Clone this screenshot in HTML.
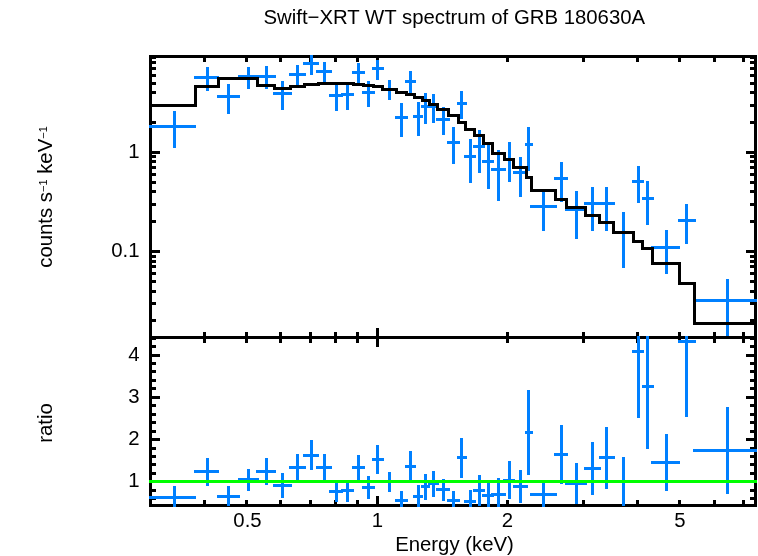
<!DOCTYPE html>
<html><head><meta charset="utf-8"><title>Swift-XRT WT spectrum of GRB 180630A</title>
<style>
html,body{margin:0;padding:0;background:#fff;}
body{width:758px;height:556px;overflow:hidden;}
svg{display:block;}
text{font-family:"Liberation Sans",Arial,Helvetica,sans-serif;font-size:20.35px;fill:#000;}
</style></head><body>
<svg width="758" height="556" viewBox="0 0 758 556">
<rect x="0" y="0" width="758" height="556" fill="#fff"/>
<g shape-rendering="crispEdges">
<rect x="149" y="55" width="608" height="3" fill="#000"/>
<rect x="149" y="55" width="3" height="284" fill="#000"/>
<rect x="754" y="55" width="3" height="284" fill="#000"/>
<rect x="149" y="336" width="608" height="3" fill="#000"/>
<rect x="203" y="58" width="3" height="4" fill="#000"/>
<rect x="203" y="332" width="3" height="4" fill="#000"/>
<rect x="245" y="58" width="3" height="4" fill="#000"/>
<rect x="245" y="332" width="3" height="4" fill="#000"/>
<rect x="279" y="58" width="3" height="4" fill="#000"/>
<rect x="279" y="332" width="3" height="4" fill="#000"/>
<rect x="309" y="58" width="3" height="4" fill="#000"/>
<rect x="309" y="332" width="3" height="4" fill="#000"/>
<rect x="334" y="58" width="3" height="4" fill="#000"/>
<rect x="334" y="332" width="3" height="4" fill="#000"/>
<rect x="356" y="58" width="3" height="4" fill="#000"/>
<rect x="356" y="332" width="3" height="4" fill="#000"/>
<rect x="506" y="58" width="3" height="4" fill="#000"/>
<rect x="506" y="332" width="3" height="4" fill="#000"/>
<rect x="582" y="58" width="3" height="4" fill="#000"/>
<rect x="582" y="332" width="3" height="4" fill="#000"/>
<rect x="636" y="58" width="3" height="4" fill="#000"/>
<rect x="636" y="332" width="3" height="4" fill="#000"/>
<rect x="678" y="58" width="3" height="4" fill="#000"/>
<rect x="678" y="332" width="3" height="4" fill="#000"/>
<rect x="713" y="58" width="3" height="4" fill="#000"/>
<rect x="713" y="332" width="3" height="4" fill="#000"/>
<rect x="742" y="58" width="3" height="4" fill="#000"/>
<rect x="742" y="332" width="3" height="4" fill="#000"/>
<rect x="376" y="58" width="3" height="8" fill="#000"/>
<rect x="376" y="328" width="3" height="8" fill="#000"/>
<rect x="152" y="319" width="4" height="3" fill="#000"/>
<rect x="750" y="319" width="4" height="3" fill="#000"/>
<rect x="152" y="302" width="4" height="3" fill="#000"/>
<rect x="750" y="302" width="4" height="3" fill="#000"/>
<rect x="152" y="290" width="4" height="3" fill="#000"/>
<rect x="750" y="290" width="4" height="3" fill="#000"/>
<rect x="152" y="280" width="4" height="3" fill="#000"/>
<rect x="750" y="280" width="4" height="3" fill="#000"/>
<rect x="152" y="272" width="4" height="3" fill="#000"/>
<rect x="750" y="272" width="4" height="3" fill="#000"/>
<rect x="152" y="265" width="4" height="3" fill="#000"/>
<rect x="750" y="265" width="4" height="3" fill="#000"/>
<rect x="152" y="260" width="4" height="3" fill="#000"/>
<rect x="750" y="260" width="4" height="3" fill="#000"/>
<rect x="152" y="255" width="4" height="3" fill="#000"/>
<rect x="750" y="255" width="4" height="3" fill="#000"/>
<rect x="152" y="250" width="8" height="3" fill="#000"/>
<rect x="746" y="250" width="8" height="3" fill="#000"/>
<rect x="152" y="220" width="4" height="3" fill="#000"/>
<rect x="750" y="220" width="4" height="3" fill="#000"/>
<rect x="152" y="203" width="4" height="3" fill="#000"/>
<rect x="750" y="203" width="4" height="3" fill="#000"/>
<rect x="152" y="190" width="4" height="3" fill="#000"/>
<rect x="750" y="190" width="4" height="3" fill="#000"/>
<rect x="152" y="181" width="4" height="3" fill="#000"/>
<rect x="750" y="181" width="4" height="3" fill="#000"/>
<rect x="152" y="173" width="4" height="3" fill="#000"/>
<rect x="750" y="173" width="4" height="3" fill="#000"/>
<rect x="152" y="166" width="4" height="3" fill="#000"/>
<rect x="750" y="166" width="4" height="3" fill="#000"/>
<rect x="152" y="160" width="4" height="3" fill="#000"/>
<rect x="750" y="160" width="4" height="3" fill="#000"/>
<rect x="152" y="155" width="4" height="3" fill="#000"/>
<rect x="750" y="155" width="4" height="3" fill="#000"/>
<rect x="152" y="151" width="8" height="3" fill="#000"/>
<rect x="746" y="151" width="8" height="3" fill="#000"/>
<rect x="152" y="121" width="4" height="3" fill="#000"/>
<rect x="750" y="121" width="4" height="3" fill="#000"/>
<rect x="152" y="104" width="4" height="3" fill="#000"/>
<rect x="750" y="104" width="4" height="3" fill="#000"/>
<rect x="152" y="91" width="4" height="3" fill="#000"/>
<rect x="750" y="91" width="4" height="3" fill="#000"/>
<rect x="152" y="82" width="4" height="3" fill="#000"/>
<rect x="750" y="82" width="4" height="3" fill="#000"/>
<rect x="152" y="74" width="4" height="3" fill="#000"/>
<rect x="750" y="74" width="4" height="3" fill="#000"/>
<rect x="152" y="67" width="4" height="3" fill="#000"/>
<rect x="750" y="67" width="4" height="3" fill="#000"/>
<rect x="152" y="61" width="4" height="3" fill="#000"/>
<rect x="750" y="61" width="4" height="3" fill="#000"/>
<rect x="152" y="56" width="4" height="3" fill="#000"/>
<rect x="750" y="56" width="4" height="3" fill="#000"/>
<rect x="149" y="125" width="47" height="3" fill="#0080ff"/>
<rect x="173" y="111" width="3" height="37" fill="#0080ff"/>
<rect x="194" y="76" width="25" height="3" fill="#0080ff"/>
<rect x="206" y="67" width="3" height="24" fill="#0080ff"/>
<rect x="217" y="95" width="23" height="3" fill="#0080ff"/>
<rect x="227" y="84" width="3" height="30" fill="#0080ff"/>
<rect x="238" y="75" width="21" height="3" fill="#0080ff"/>
<rect x="247" y="67" width="3" height="22" fill="#0080ff"/>
<rect x="256" y="75" width="20" height="3" fill="#0080ff"/>
<rect x="265" y="66" width="3" height="23" fill="#0080ff"/>
<rect x="273" y="92" width="19" height="3" fill="#0080ff"/>
<rect x="281" y="81" width="3" height="29" fill="#0080ff"/>
<rect x="289" y="73" width="17" height="3" fill="#0080ff"/>
<rect x="296" y="65" width="3" height="21" fill="#0080ff"/>
<rect x="303" y="62" width="16" height="3" fill="#0080ff"/>
<rect x="310" y="55" width="3" height="20" fill="#0080ff"/>
<rect x="316" y="70" width="16" height="3" fill="#0080ff"/>
<rect x="323" y="62" width="3" height="20" fill="#0080ff"/>
<rect x="329" y="94" width="14" height="3" fill="#0080ff"/>
<rect x="335" y="84" width="3" height="27" fill="#0080ff"/>
<rect x="341" y="93" width="13" height="3" fill="#0080ff"/>
<rect x="346" y="84" width="3" height="26" fill="#0080ff"/>
<rect x="352" y="71" width="13" height="3" fill="#0080ff"/>
<rect x="357" y="63" width="3" height="20" fill="#0080ff"/>
<rect x="362" y="91" width="13" height="3" fill="#0080ff"/>
<rect x="367" y="81" width="3" height="26" fill="#0080ff"/>
<rect x="372" y="67" width="12" height="3" fill="#0080ff"/>
<rect x="376" y="60" width="3" height="20" fill="#0080ff"/>
<rect x="381" y="88" width="16" height="3" fill="#0080ff"/>
<rect x="388" y="80" width="3" height="20" fill="#0080ff"/>
<rect x="395" y="116" width="13" height="3" fill="#0080ff"/>
<rect x="400" y="103" width="3" height="34" fill="#0080ff"/>
<rect x="405" y="80" width="11" height="3" fill="#0080ff"/>
<rect x="409" y="71" width="3" height="22" fill="#0080ff"/>
<rect x="413" y="115" width="10" height="3" fill="#0080ff"/>
<rect x="417" y="102" width="3" height="34" fill="#0080ff"/>
<rect x="421" y="105" width="9" height="3" fill="#0080ff"/>
<rect x="424" y="93" width="3" height="31" fill="#0080ff"/>
<rect x="428" y="105" width="11" height="3" fill="#0080ff"/>
<rect x="432" y="94" width="3" height="29" fill="#0080ff"/>
<rect x="436" y="118" width="14" height="3" fill="#0080ff"/>
<rect x="442" y="107" width="3" height="28" fill="#0080ff"/>
<rect x="447" y="141" width="13" height="3" fill="#0080ff"/>
<rect x="452" y="127" width="3" height="37" fill="#0080ff"/>
<rect x="457" y="102" width="10" height="3" fill="#0080ff"/>
<rect x="460" y="91" width="3" height="28" fill="#0080ff"/>
<rect x="464" y="155" width="12" height="3" fill="#0080ff"/>
<rect x="469" y="139" width="3" height="44" fill="#0080ff"/>
<rect x="473" y="145" width="12" height="3" fill="#0080ff"/>
<rect x="478" y="130" width="3" height="43" fill="#0080ff"/>
<rect x="482" y="160" width="12" height="3" fill="#0080ff"/>
<rect x="487" y="145" width="3" height="44" fill="#0080ff"/>
<rect x="491" y="168" width="15" height="3" fill="#0080ff"/>
<rect x="497" y="150" width="3" height="51" fill="#0080ff"/>
<rect x="503" y="158" width="12" height="3" fill="#0080ff"/>
<rect x="508" y="142" width="3" height="40" fill="#0080ff"/>
<rect x="513" y="171" width="15" height="3" fill="#0080ff"/>
<rect x="519" y="157" width="3" height="40" fill="#0080ff"/>
<rect x="525" y="143" width="8" height="3" fill="#0080ff"/>
<rect x="527" y="127" width="3" height="44" fill="#0080ff"/>
<rect x="530" y="205" width="27" height="3" fill="#0080ff"/>
<rect x="542" y="190" width="3" height="41" fill="#0080ff"/>
<rect x="554" y="177" width="14" height="3" fill="#0080ff"/>
<rect x="560" y="162" width="3" height="40" fill="#0080ff"/>
<rect x="565" y="208" width="22" height="3" fill="#0080ff"/>
<rect x="575" y="191" width="3" height="48" fill="#0080ff"/>
<rect x="584" y="202" width="17" height="3" fill="#0080ff"/>
<rect x="591" y="187" width="3" height="44" fill="#0080ff"/>
<rect x="599" y="202" width="16" height="3" fill="#0080ff"/>
<rect x="605" y="187" width="3" height="44" fill="#0080ff"/>
<rect x="612" y="231" width="23" height="3" fill="#0080ff"/>
<rect x="622" y="212" width="3" height="56" fill="#0080ff"/>
<rect x="632" y="180" width="12" height="3" fill="#0080ff"/>
<rect x="637" y="166" width="3" height="37" fill="#0080ff"/>
<rect x="642" y="197" width="12" height="3" fill="#0080ff"/>
<rect x="646" y="181" width="3" height="44" fill="#0080ff"/>
<rect x="651" y="246" width="29" height="3" fill="#0080ff"/>
<rect x="665" y="230" width="3" height="44" fill="#0080ff"/>
<rect x="678" y="219" width="18" height="3" fill="#0080ff"/>
<rect x="685" y="204" width="3" height="40" fill="#0080ff"/>
<rect x="693" y="299" width="64" height="3" fill="#0080ff"/>
<rect x="726" y="279" width="3" height="57" fill="#0080ff"/>
<rect x="149" y="104" width="48" height="3" fill="#000"/>
<rect x="194" y="85" width="3" height="22" fill="#000"/>
<rect x="194" y="85" width="26" height="3" fill="#000"/>
<rect x="217" y="77" width="3" height="11" fill="#000"/>
<rect x="217" y="77" width="24" height="3" fill="#000"/>
<rect x="238" y="77" width="3" height="3" fill="#000"/>
<rect x="238" y="77" width="21" height="3" fill="#000"/>
<rect x="256" y="77" width="3" height="10" fill="#000"/>
<rect x="256" y="84" width="20" height="3" fill="#000"/>
<rect x="273" y="84" width="3" height="6" fill="#000"/>
<rect x="273" y="87" width="19" height="3" fill="#000"/>
<rect x="289" y="85" width="3" height="5" fill="#000"/>
<rect x="289" y="85" width="17" height="3" fill="#000"/>
<rect x="303" y="83" width="3" height="5" fill="#000"/>
<rect x="303" y="83" width="17" height="3" fill="#000"/>
<rect x="317" y="82" width="3" height="4" fill="#000"/>
<rect x="317" y="82" width="15" height="3" fill="#000"/>
<rect x="329" y="82" width="3" height="3" fill="#000"/>
<rect x="329" y="82" width="15" height="3" fill="#000"/>
<rect x="341" y="82" width="3" height="3" fill="#000"/>
<rect x="341" y="82" width="14" height="3" fill="#000"/>
<rect x="352" y="82" width="3" height="4" fill="#000"/>
<rect x="352" y="83" width="13" height="3" fill="#000"/>
<rect x="362" y="83" width="3" height="4" fill="#000"/>
<rect x="362" y="84" width="13" height="3" fill="#000"/>
<rect x="372" y="84" width="3" height="4" fill="#000"/>
<rect x="372" y="85" width="12" height="3" fill="#000"/>
<rect x="381" y="85" width="3" height="6" fill="#000"/>
<rect x="381" y="88" width="17" height="3" fill="#000"/>
<rect x="395" y="88" width="3" height="6" fill="#000"/>
<rect x="395" y="91" width="13" height="3" fill="#000"/>
<rect x="405" y="91" width="3" height="5" fill="#000"/>
<rect x="405" y="93" width="11" height="3" fill="#000"/>
<rect x="413" y="93" width="3" height="6" fill="#000"/>
<rect x="413" y="96" width="11" height="3" fill="#000"/>
<rect x="421" y="96" width="3" height="6" fill="#000"/>
<rect x="421" y="99" width="10" height="3" fill="#000"/>
<rect x="428" y="99" width="3" height="7" fill="#000"/>
<rect x="428" y="103" width="11" height="3" fill="#000"/>
<rect x="436" y="103" width="3" height="8" fill="#000"/>
<rect x="436" y="108" width="14" height="3" fill="#000"/>
<rect x="447" y="108" width="3" height="9" fill="#000"/>
<rect x="447" y="114" width="13" height="3" fill="#000"/>
<rect x="457" y="114" width="3" height="10" fill="#000"/>
<rect x="457" y="121" width="10" height="3" fill="#000"/>
<rect x="464" y="121" width="3" height="10" fill="#000"/>
<rect x="464" y="128" width="12" height="3" fill="#000"/>
<rect x="473" y="128" width="3" height="9" fill="#000"/>
<rect x="473" y="134" width="12" height="3" fill="#000"/>
<rect x="482" y="134" width="3" height="11" fill="#000"/>
<rect x="482" y="142" width="12" height="3" fill="#000"/>
<rect x="491" y="142" width="3" height="13" fill="#000"/>
<rect x="491" y="152" width="15" height="3" fill="#000"/>
<rect x="503" y="152" width="3" height="9" fill="#000"/>
<rect x="503" y="158" width="12" height="3" fill="#000"/>
<rect x="512" y="158" width="3" height="11" fill="#000"/>
<rect x="512" y="166" width="16" height="3" fill="#000"/>
<rect x="525" y="166" width="3" height="13" fill="#000"/>
<rect x="525" y="176" width="8" height="3" fill="#000"/>
<rect x="530" y="176" width="3" height="16" fill="#000"/>
<rect x="530" y="189" width="27" height="3" fill="#000"/>
<rect x="554" y="189" width="3" height="12" fill="#000"/>
<rect x="554" y="198" width="14" height="3" fill="#000"/>
<rect x="565" y="198" width="3" height="11" fill="#000"/>
<rect x="565" y="206" width="22" height="3" fill="#000"/>
<rect x="584" y="206" width="3" height="11" fill="#000"/>
<rect x="584" y="214" width="17" height="3" fill="#000"/>
<rect x="598" y="214" width="3" height="10" fill="#000"/>
<rect x="598" y="221" width="17" height="3" fill="#000"/>
<rect x="612" y="221" width="3" height="13" fill="#000"/>
<rect x="612" y="231" width="23" height="3" fill="#000"/>
<rect x="632" y="231" width="3" height="12" fill="#000"/>
<rect x="632" y="240" width="12" height="3" fill="#000"/>
<rect x="641" y="240" width="3" height="10" fill="#000"/>
<rect x="641" y="247" width="13" height="3" fill="#000"/>
<rect x="651" y="247" width="3" height="18" fill="#000"/>
<rect x="651" y="262" width="30" height="3" fill="#000"/>
<rect x="678" y="262" width="3" height="23" fill="#000"/>
<rect x="678" y="282" width="18" height="3" fill="#000"/>
<rect x="693" y="282" width="3" height="43" fill="#000"/>
<rect x="693" y="322" width="62" height="3" fill="#000"/>
<rect x="149" y="336" width="608" height="3" fill="#000"/>
<rect x="149" y="336" width="3" height="171" fill="#000"/>
<rect x="754" y="336" width="3" height="171" fill="#000"/>
<rect x="149" y="504" width="608" height="3" fill="#000"/>
<rect x="203" y="339" width="3" height="4" fill="#000"/>
<rect x="203" y="500" width="3" height="4" fill="#000"/>
<rect x="245" y="339" width="3" height="4" fill="#000"/>
<rect x="245" y="500" width="3" height="4" fill="#000"/>
<rect x="279" y="339" width="3" height="4" fill="#000"/>
<rect x="279" y="500" width="3" height="4" fill="#000"/>
<rect x="309" y="339" width="3" height="4" fill="#000"/>
<rect x="309" y="500" width="3" height="4" fill="#000"/>
<rect x="334" y="339" width="3" height="4" fill="#000"/>
<rect x="334" y="500" width="3" height="4" fill="#000"/>
<rect x="356" y="339" width="3" height="4" fill="#000"/>
<rect x="356" y="500" width="3" height="4" fill="#000"/>
<rect x="506" y="339" width="3" height="4" fill="#000"/>
<rect x="506" y="500" width="3" height="4" fill="#000"/>
<rect x="582" y="339" width="3" height="4" fill="#000"/>
<rect x="582" y="500" width="3" height="4" fill="#000"/>
<rect x="636" y="339" width="3" height="4" fill="#000"/>
<rect x="636" y="500" width="3" height="4" fill="#000"/>
<rect x="678" y="339" width="3" height="4" fill="#000"/>
<rect x="678" y="500" width="3" height="4" fill="#000"/>
<rect x="713" y="339" width="3" height="4" fill="#000"/>
<rect x="713" y="500" width="3" height="4" fill="#000"/>
<rect x="742" y="339" width="3" height="4" fill="#000"/>
<rect x="742" y="500" width="3" height="4" fill="#000"/>
<rect x="376" y="339" width="3" height="8" fill="#000"/>
<rect x="376" y="496" width="3" height="8" fill="#000"/>
<rect x="152" y="497" width="4" height="3" fill="#000"/>
<rect x="750" y="497" width="4" height="3" fill="#000"/>
<rect x="152" y="489" width="4" height="3" fill="#000"/>
<rect x="750" y="489" width="4" height="3" fill="#000"/>
<rect x="152" y="480" width="8" height="3" fill="#000"/>
<rect x="746" y="480" width="8" height="3" fill="#000"/>
<rect x="152" y="472" width="4" height="3" fill="#000"/>
<rect x="750" y="472" width="4" height="3" fill="#000"/>
<rect x="152" y="463" width="4" height="3" fill="#000"/>
<rect x="750" y="463" width="4" height="3" fill="#000"/>
<rect x="152" y="455" width="4" height="3" fill="#000"/>
<rect x="750" y="455" width="4" height="3" fill="#000"/>
<rect x="152" y="447" width="4" height="3" fill="#000"/>
<rect x="750" y="447" width="4" height="3" fill="#000"/>
<rect x="152" y="438" width="8" height="3" fill="#000"/>
<rect x="746" y="438" width="8" height="3" fill="#000"/>
<rect x="152" y="430" width="4" height="3" fill="#000"/>
<rect x="750" y="430" width="4" height="3" fill="#000"/>
<rect x="152" y="421" width="4" height="3" fill="#000"/>
<rect x="750" y="421" width="4" height="3" fill="#000"/>
<rect x="152" y="413" width="4" height="3" fill="#000"/>
<rect x="750" y="413" width="4" height="3" fill="#000"/>
<rect x="152" y="404" width="4" height="3" fill="#000"/>
<rect x="750" y="404" width="4" height="3" fill="#000"/>
<rect x="152" y="396" width="8" height="3" fill="#000"/>
<rect x="746" y="396" width="8" height="3" fill="#000"/>
<rect x="152" y="387" width="4" height="3" fill="#000"/>
<rect x="750" y="387" width="4" height="3" fill="#000"/>
<rect x="152" y="379" width="4" height="3" fill="#000"/>
<rect x="750" y="379" width="4" height="3" fill="#000"/>
<rect x="152" y="370" width="4" height="3" fill="#000"/>
<rect x="750" y="370" width="4" height="3" fill="#000"/>
<rect x="152" y="362" width="4" height="3" fill="#000"/>
<rect x="750" y="362" width="4" height="3" fill="#000"/>
<rect x="152" y="354" width="8" height="3" fill="#000"/>
<rect x="746" y="354" width="8" height="3" fill="#000"/>
<rect x="152" y="345" width="4" height="3" fill="#000"/>
<rect x="750" y="345" width="4" height="3" fill="#000"/>
<rect x="152" y="337" width="4" height="3" fill="#000"/>
<rect x="750" y="337" width="4" height="3" fill="#000"/>
<rect x="149" y="496" width="47" height="3" fill="#0080ff"/>
<rect x="173" y="486" width="3" height="21" fill="#0080ff"/>
<rect x="194" y="470" width="25" height="3" fill="#0080ff"/>
<rect x="206" y="458" width="3" height="28" fill="#0080ff"/>
<rect x="217" y="495" width="23" height="3" fill="#0080ff"/>
<rect x="227" y="486" width="3" height="20" fill="#0080ff"/>
<rect x="238" y="478" width="21" height="3" fill="#0080ff"/>
<rect x="247" y="469" width="3" height="22" fill="#0080ff"/>
<rect x="256" y="470" width="20" height="3" fill="#0080ff"/>
<rect x="265" y="458" width="3" height="27" fill="#0080ff"/>
<rect x="273" y="484" width="19" height="3" fill="#0080ff"/>
<rect x="281" y="473" width="3" height="25" fill="#0080ff"/>
<rect x="289" y="466" width="17" height="3" fill="#0080ff"/>
<rect x="296" y="454" width="3" height="28" fill="#0080ff"/>
<rect x="303" y="454" width="16" height="3" fill="#0080ff"/>
<rect x="310" y="440" width="3" height="30" fill="#0080ff"/>
<rect x="316" y="466" width="16" height="3" fill="#0080ff"/>
<rect x="323" y="454" width="3" height="28" fill="#0080ff"/>
<rect x="329" y="490" width="14" height="3" fill="#0080ff"/>
<rect x="335" y="481" width="3" height="21" fill="#0080ff"/>
<rect x="341" y="489" width="13" height="3" fill="#0080ff"/>
<rect x="346" y="481" width="3" height="21" fill="#0080ff"/>
<rect x="352" y="466" width="13" height="3" fill="#0080ff"/>
<rect x="357" y="455" width="3" height="27" fill="#0080ff"/>
<rect x="362" y="486" width="13" height="3" fill="#0080ff"/>
<rect x="367" y="476" width="3" height="23" fill="#0080ff"/>
<rect x="372" y="458" width="12" height="3" fill="#0080ff"/>
<rect x="376" y="445" width="3" height="29" fill="#0080ff"/>
<rect x="381" y="480" width="16" height="3" fill="#0080ff"/>
<rect x="388" y="472" width="3" height="20" fill="#0080ff"/>
<rect x="395" y="499" width="13" height="3" fill="#0080ff"/>
<rect x="400" y="491" width="3" height="16" fill="#0080ff"/>
<rect x="405" y="465" width="11" height="3" fill="#0080ff"/>
<rect x="409" y="451" width="3" height="31" fill="#0080ff"/>
<rect x="413" y="495" width="10" height="3" fill="#0080ff"/>
<rect x="417" y="485" width="3" height="22" fill="#0080ff"/>
<rect x="421" y="485" width="9" height="3" fill="#0080ff"/>
<rect x="424" y="474" width="3" height="26" fill="#0080ff"/>
<rect x="428" y="482" width="11" height="3" fill="#0080ff"/>
<rect x="432" y="471" width="3" height="26" fill="#0080ff"/>
<rect x="436" y="488" width="14" height="3" fill="#0080ff"/>
<rect x="442" y="479" width="3" height="22" fill="#0080ff"/>
<rect x="447" y="499" width="13" height="3" fill="#0080ff"/>
<rect x="452" y="491" width="3" height="16" fill="#0080ff"/>
<rect x="457" y="456" width="10" height="3" fill="#0080ff"/>
<rect x="460" y="438" width="3" height="40" fill="#0080ff"/>
<rect x="464" y="500" width="12" height="3" fill="#0080ff"/>
<rect x="469" y="490" width="3" height="17" fill="#0080ff"/>
<rect x="473" y="489" width="12" height="3" fill="#0080ff"/>
<rect x="478" y="475" width="3" height="31" fill="#0080ff"/>
<rect x="482" y="494" width="12" height="3" fill="#0080ff"/>
<rect x="487" y="481" width="3" height="26" fill="#0080ff"/>
<rect x="491" y="493" width="15" height="3" fill="#0080ff"/>
<rect x="497" y="478" width="3" height="29" fill="#0080ff"/>
<rect x="503" y="479" width="12" height="3" fill="#0080ff"/>
<rect x="508" y="461" width="3" height="38" fill="#0080ff"/>
<rect x="513" y="485" width="15" height="3" fill="#0080ff"/>
<rect x="519" y="470" width="3" height="33" fill="#0080ff"/>
<rect x="525" y="431" width="8" height="3" fill="#0080ff"/>
<rect x="527" y="390" width="3" height="85" fill="#0080ff"/>
<rect x="530" y="493" width="27" height="3" fill="#0080ff"/>
<rect x="542" y="481" width="3" height="26" fill="#0080ff"/>
<rect x="554" y="453" width="14" height="3" fill="#0080ff"/>
<rect x="560" y="425" width="3" height="59" fill="#0080ff"/>
<rect x="565" y="482" width="22" height="3" fill="#0080ff"/>
<rect x="575" y="463" width="3" height="41" fill="#0080ff"/>
<rect x="584" y="467" width="17" height="3" fill="#0080ff"/>
<rect x="591" y="442" width="3" height="53" fill="#0080ff"/>
<rect x="599" y="456" width="16" height="3" fill="#0080ff"/>
<rect x="605" y="427" width="3" height="62" fill="#0080ff"/>
<rect x="612" y="480" width="23" height="3" fill="#0080ff"/>
<rect x="622" y="457" width="3" height="49" fill="#0080ff"/>
<rect x="632" y="350" width="12" height="3" fill="#0080ff"/>
<rect x="637" y="336" width="3" height="82" fill="#0080ff"/>
<rect x="642" y="385" width="12" height="3" fill="#0080ff"/>
<rect x="646" y="336" width="3" height="113" fill="#0080ff"/>
<rect x="651" y="461" width="29" height="3" fill="#0080ff"/>
<rect x="665" y="434" width="3" height="57" fill="#0080ff"/>
<rect x="678" y="340" width="18" height="3" fill="#0080ff"/>
<rect x="685" y="336" width="3" height="81" fill="#0080ff"/>
<rect x="693" y="449" width="64" height="3" fill="#0080ff"/>
<rect x="726" y="407" width="3" height="87" fill="#0080ff"/>
<rect x="149" y="480" width="608" height="3" fill="#00ff00"/>
</g>
<g>
<text x="454.3" y="24" text-anchor="middle" >Swift−XRT WT spectrum of GRB 180630A</text>
<text x="139.5" y="158" text-anchor="end" >1</text>
<text x="139.5" y="257" text-anchor="end" >0.1</text>
<text x="139.5" y="361" text-anchor="end" >4</text>
<text x="139.5" y="403" text-anchor="end" >3</text>
<text x="139.5" y="445" text-anchor="end" >2</text>
<text x="139.5" y="487" text-anchor="end" >1</text>
<text x="247.5" y="527" text-anchor="middle" >0.5</text>
<text x="377.5" y="527" text-anchor="middle" >1</text>
<text x="507.5" y="527" text-anchor="middle" >2</text>
<text x="680" y="527" text-anchor="middle" >5</text>
<text x="454.5" y="550.5" text-anchor="middle" >Energy (keV)</text>
<text transform="translate(52,197) rotate(-90)" text-anchor="middle">counts s<tspan font-size="11" dy="-5.5">−1</tspan><tspan dy="5.5"> keV</tspan><tspan font-size="11" dy="-5.5">−1</tspan></text>
<text transform="translate(52,423) rotate(-90)" text-anchor="middle">ratio</text>
</g>
</svg>
</body></html>
